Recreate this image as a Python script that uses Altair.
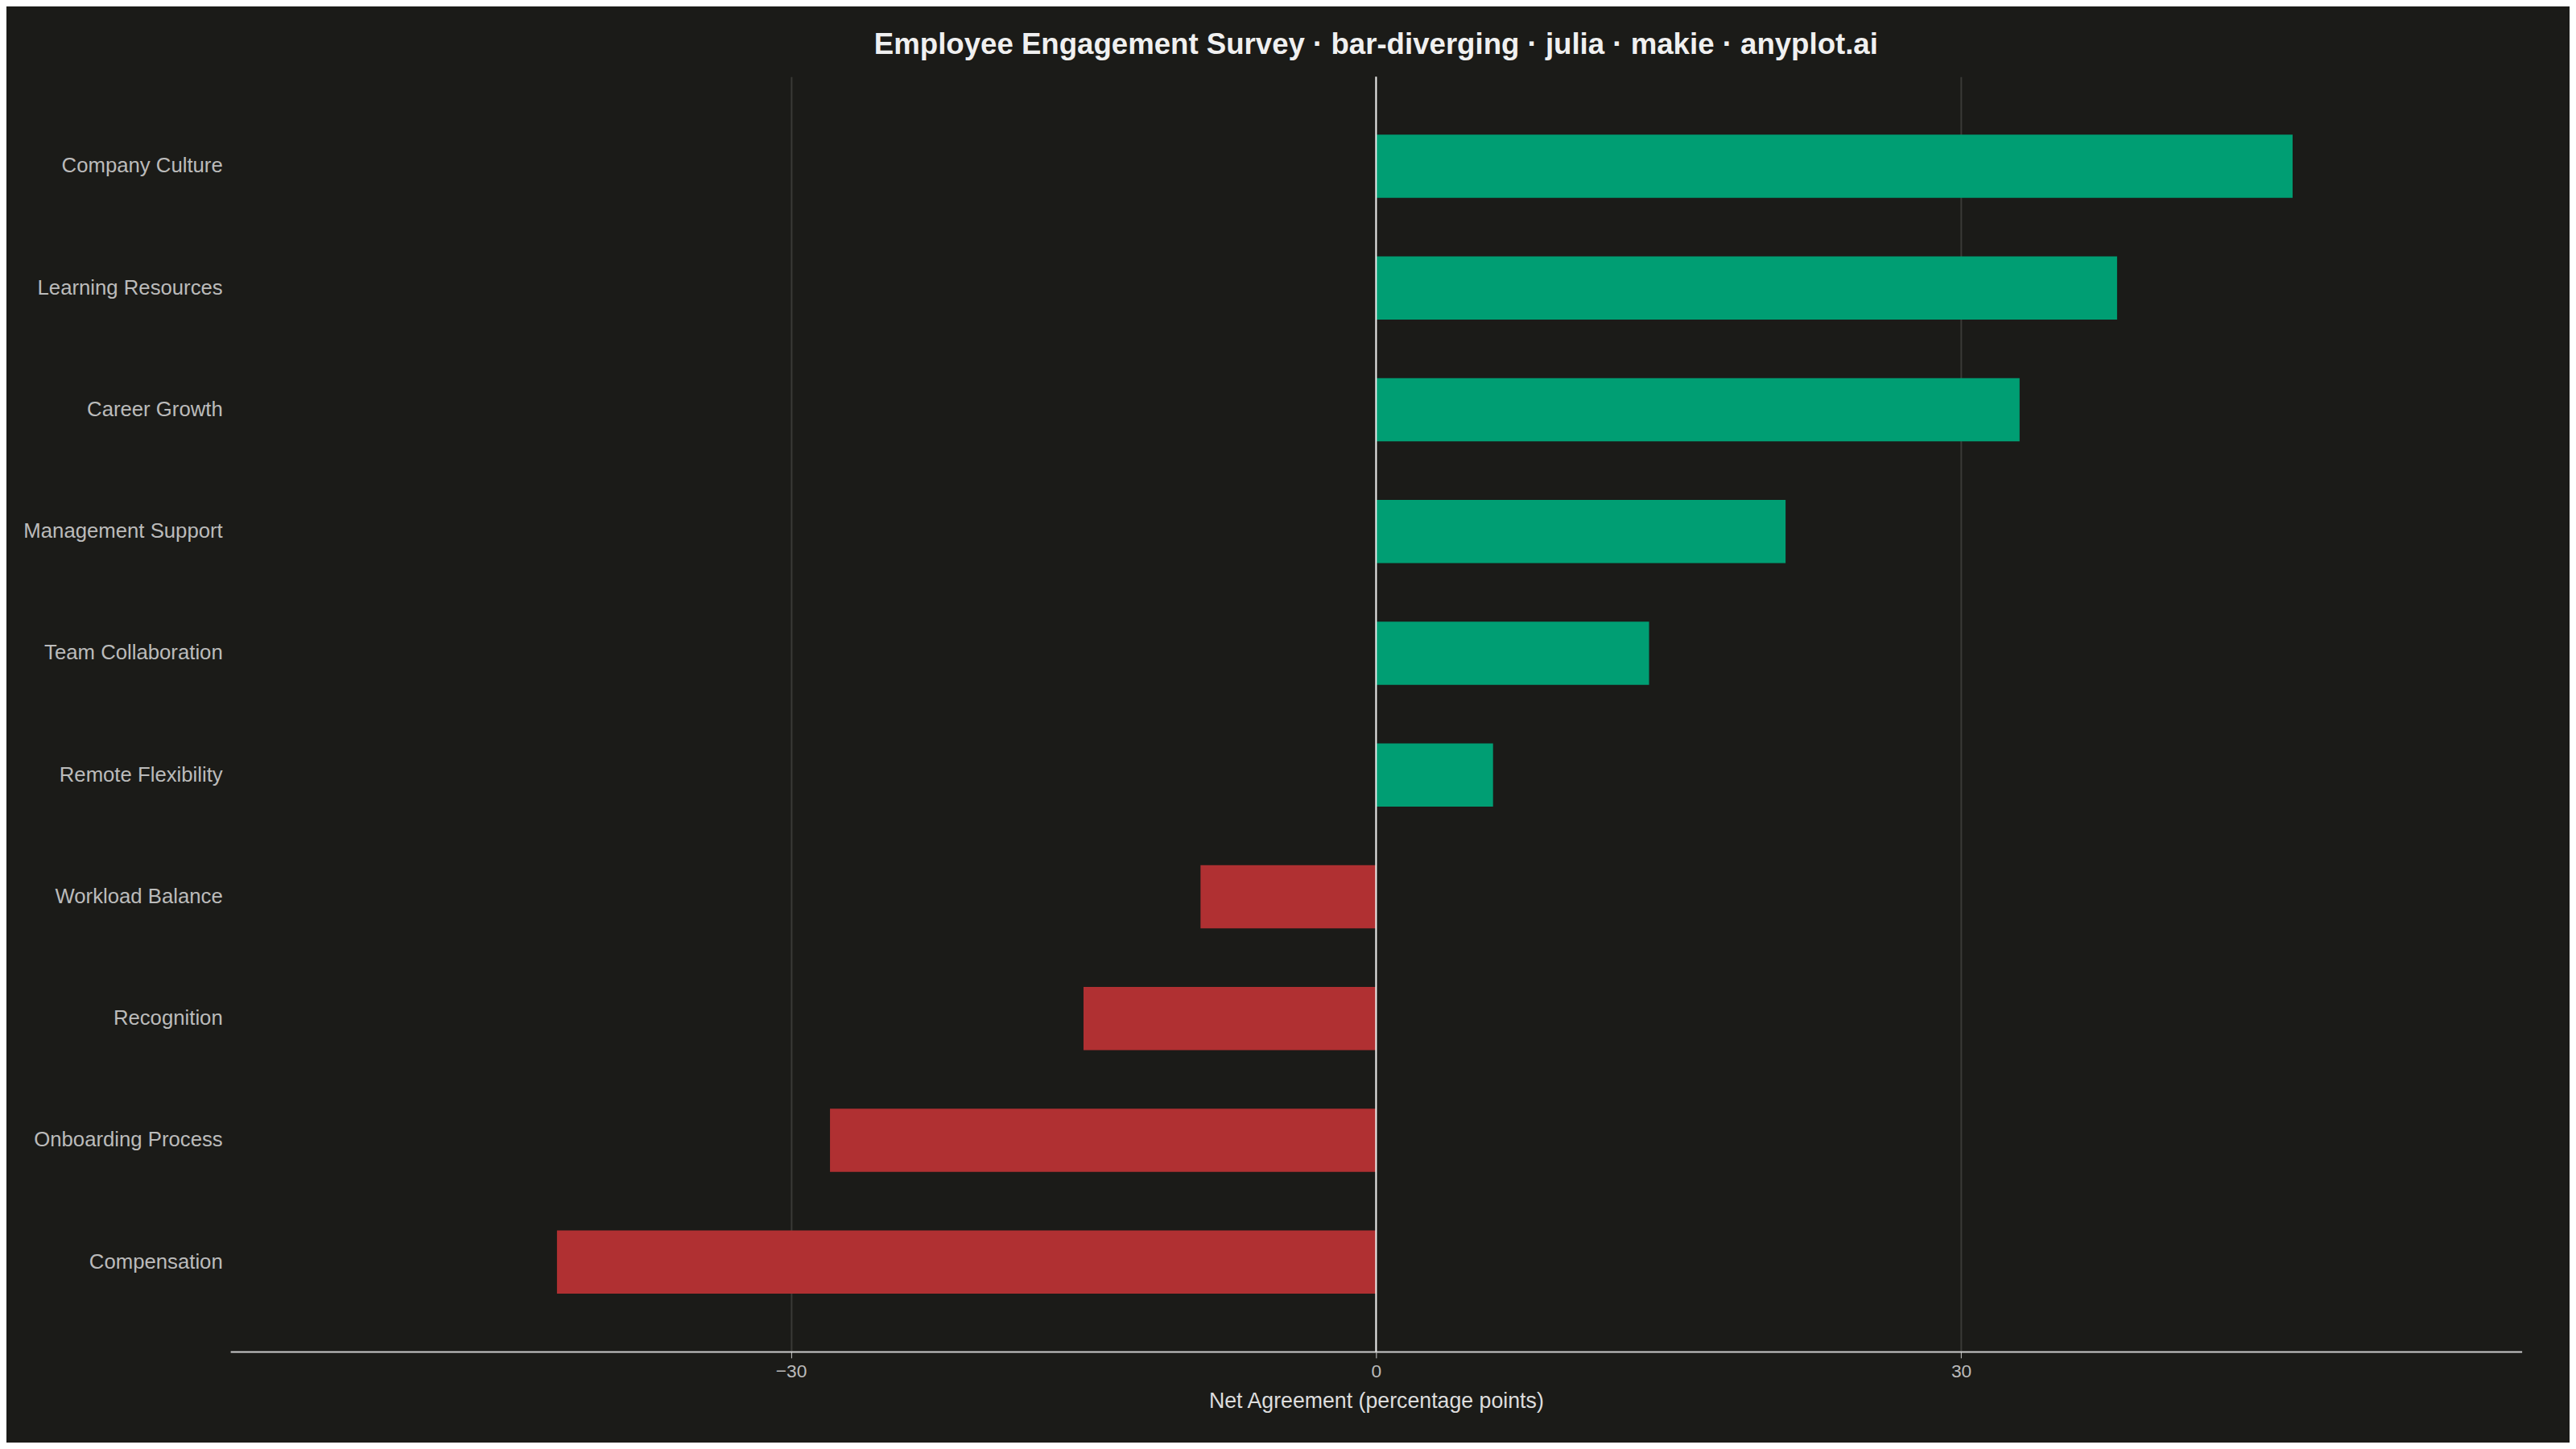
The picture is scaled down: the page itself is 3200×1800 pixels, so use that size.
import altair as alt
import pandas as pd

categories = ["Company Culture", "Learning Resources", "Career Growth", "Management Support",
              "Team Collaboration", "Remote Flexibility", "Workload Balance", "Recognition",
              "Onboarding Process", "Compensation"]
net_agreement = [47, 38, 33, 21, 14, 6, -9, -15, -28, -42]

data = pd.DataFrame({"area": categories, "net": net_agreement})
data["sign"] = ["pos" if v >= 0 else "neg" for v in net_agreement]

bg = "#1b1b18"

bars = alt.Chart(data).mark_bar().encode(
    x=alt.X("net:Q", title="Net Agreement (percentage points)",
            scale=alt.Scale(domain=[-58.75, 58.75], nice=False, zero=False),
            axis=alt.Axis(values=[-30, 0, 30], format="d", grid=True, gridColor="#3a3a36",
                          gridWidth=2, domainColor="#cccccc", domainWidth=2, tickColor="#cccccc",
                          tickSize=8, labelColor="#bbbbbb", labelFontSize=23, labelPadding=6,
                          titleColor="#dddddd", titleFontSize=27, titleFontWeight="normal",
                          titlePadding=12)),
    y=alt.Y("area:N", sort=categories, title=None,
            scale=alt.Scale(paddingInner=0.48, paddingOuter=0.475),
            axis=alt.Axis(domain=False, ticks=False, grid=False, labelColor="#bbbbbb",
                          labelFontSize=26, labelPadding=10, labelLimit=0)),
    color=alt.Color("sign:N", scale=alt.Scale(domain=["pos", "neg"], range=["#009e73", "#b03032"]),
                    legend=None),
)

zero = alt.Chart(pd.DataFrame({"x": [0]})).mark_rule(color="#eeeeee", strokeWidth=2).encode(x="x:Q")

chart = (bars + zero).properties(
    width=2876, height=1600, background=bg,
    padding={"left": 20, "top": 20, "right": 60, "bottom": 30},
    title=alt.TitleParams("Employee Engagement Survey · bar-diverging · julia · makie · anyplot.ai",
                          color="#f0f0f0", fontSize=37, fontWeight="bold", anchor="middle",
                          offset=20),
).configure(font="Liberation Sans").configure_view(stroke=None)

chart.save("out.html", embed_options={"renderer": "svg", "actions": False})
